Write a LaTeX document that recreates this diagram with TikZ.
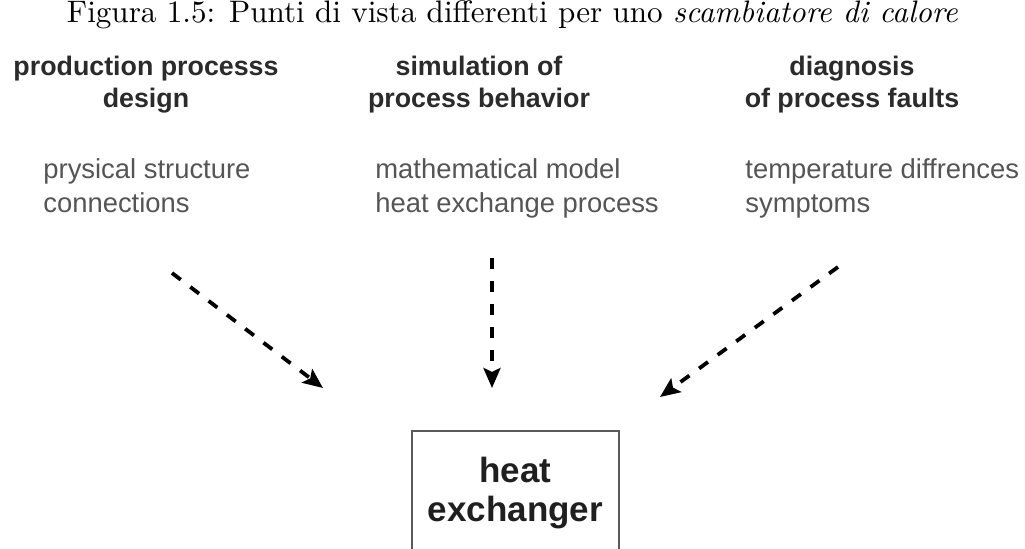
\documentclass[tikz,border=0pt]{standalone}
\usepackage{fontspec}
\usepackage{graphicx}
\usetikzlibrary{arrows.meta}
\newfontfamily\arialfont{Liberation Sans}

\definecolor{headgray}{HTML}{2B2B2B}
\definecolor{bodygray}{HTML}{555555}
\definecolor{boxgray}{HTML}{5A5A5A}

% two-line text block whose base anchor is the first baseline
\newcommand{\twolines}[3]{{\setlength{\tabcolsep}{0pt}\begin{tabular}[t]{#1}#2\\#3\end{tabular}}}

\tikzset{
  captiontext/.style={anchor=base, inner sep=0pt},
  viewhead/.style={anchor=base, inner sep=0pt, text=headgray,
    font=\arialfont\bfseries\fontsize{13.4}{16}\selectfont},
  viewbody/.style={anchor=base west, inner sep=0pt, text=bodygray,
    font=\arialfont\fontsize{13.7}{17}\selectfont},
  viewarrow/.style={draw=black, line width=1.9pt, dash pattern=on 5.5pt off 6pt,
    -{Stealth[length=10pt,width=8.5pt,inset=2pt]}},
  unitbox/.style={draw=boxgray, line width=1pt, inner sep=0pt,
    minimum width=103.5pt, minimum height=80pt, anchor=north},
  unitlabel/.style={anchor=base, inner sep=0pt, text=black!88,
    font=\arialfont\bfseries\fontsize{17.5}{19.5}\selectfont}
}

\begin{document}
\begin{tikzpicture}[x=0.5pt, y=-0.5pt]
  \clip (0,0) rectangle (1025,548);
  \fill[white] (0,0) rectangle (1025,548);

  % caption
  \node[captiontext] (cap) at (512.5,22)
    {\resizebox{445.5pt}{!}{Figura 1.5: Punti di vista differenti per uno \textit{scambiatore di calore}}};

  % three points of view
  \node[viewhead] (design) at (146,75) {\twolines{c}{production processs}{design}};
  \node[viewhead] (simul) at (479,75) {\twolines{c}{simulation of}{process behavior}};
  \node[viewhead] (diagn) at (852,75) {\twolines{c}{diagnosis}{of process faults}};

  \node[viewbody] (designtxt) at (43,178) {\twolines{l}{prysical structure}{connections}};
  \node[viewbody] (simultxt) at (375,178) {\twolines{l}{mathematical model}{heat exchange process}};
  \node[viewbody] (diagntxt) at (745,178) {\twolines{l}{temperature diffrences}{symptoms}};

  % the heat exchanger unit
  \node[unitbox] (hx) at (515.5,430) {};
  \node[unitlabel] (hxlabel) at (515.5,482) {\twolines{c}{heat}{exchanger}};

  % dashed arrows towards the unit
  \coordinate (a1s) at (172,273);
  \coordinate (a1e) at (323,388);
  \coordinate (a2s) at (492,258);
  \coordinate (a2e) at (492,388);
  \coordinate (a3s) at (838,267);
  \coordinate (a3e) at (660,397);
  \draw[viewarrow] (a1s) -- (a1e);
  \draw[viewarrow] (a2s) -- (a2e);
  \draw[viewarrow] (a3s) -- (a3e);
\end{tikzpicture}
\end{document}
